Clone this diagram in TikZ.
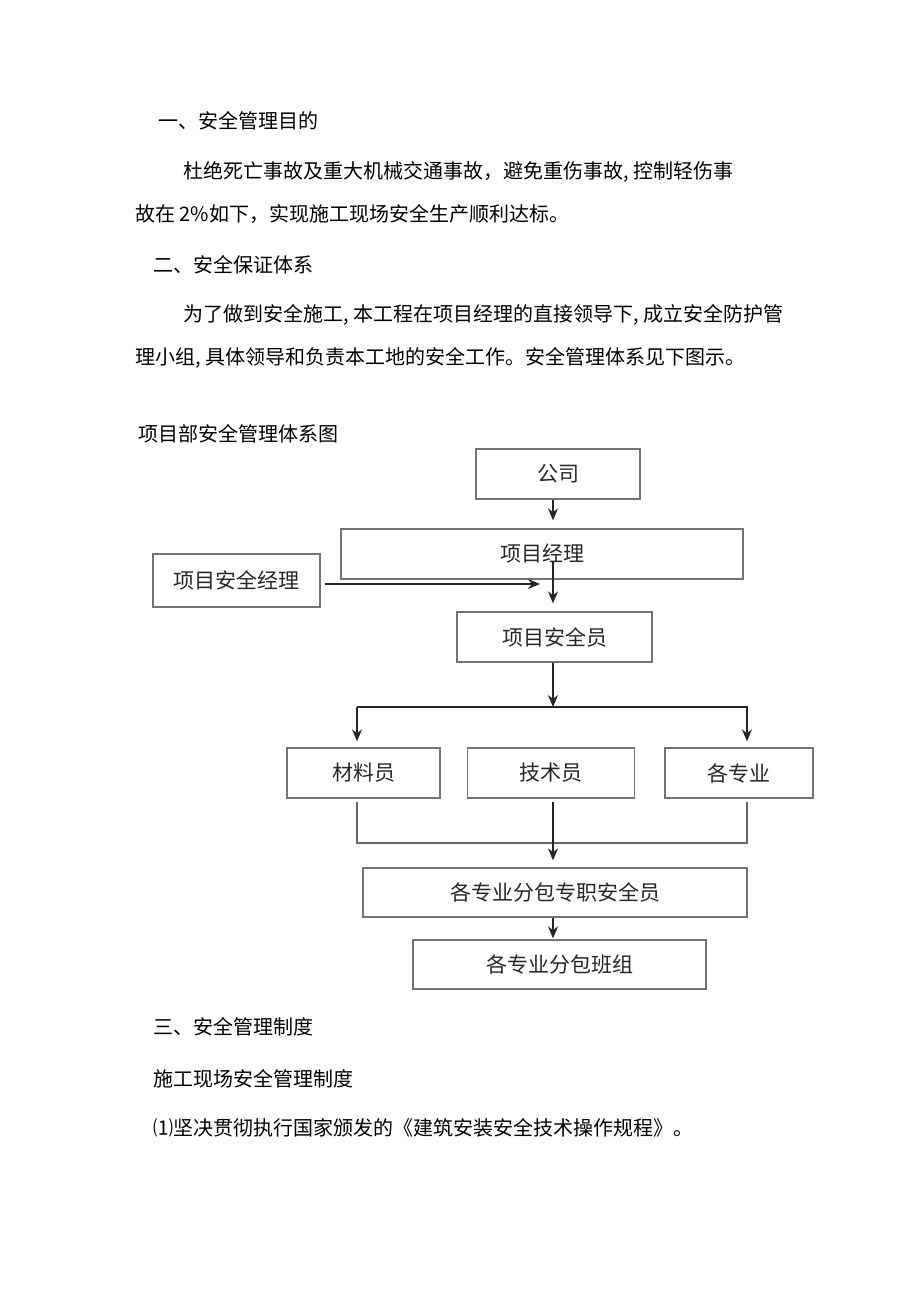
\documentclass[tikz,border=0pt]{standalone}
\usepackage{fontspec}
\setmainfont{Noto Sans CJK SC}
\usepackage{tikz}
\usetikzlibrary{arrows, arrows.meta, positioning}
\tikzstyle{post} = [rectangle, text centered, draw=black!55, line width=1.3pt, text=black!85, inner sep=0pt, font=\fontsize{21}{24}\selectfont]
\tikzstyle{para} = [anchor=west, inner sep=0pt, font=\fontsize{20}{24}\selectfont]
\tikzstyle{arrow} = [line width=1.3pt, draw=black!85, ->, >={Stealth[length=12pt, width=10pt]}]
\tikzstyle{wire} = [line width=1.3pt, draw=black!60]

\begin{document}
\begin{tikzpicture}[x=1pt, y=-1pt]
\useasboundingbox (0,0) rectangle (920,1301);

% text above the chart
\node (h1) [para] at (158,121) {一、安全管理目的};
\node (p1) [para] at (183,172) {杜绝死亡事故及重大机械交通事故，避免重伤事故, 控制轻伤事};
\node (p2) [para] at (135,214) {故在 2\%如下，实现施工现场安全生产顺利达标。};
\node (h2) [para] at (153,265) {二、安全保证体系};
\node (p3) [para] at (183,315) {为了做到安全施工, 本工程在项目经理的直接领导下, 成立安全防护管};
\node (p4) [para] at (135,358) {理小组, 具体领导和负责本工地的安全工作。安全管理体系见下图示。};
\node (title) [para] at (138,434) {项目部安全管理体系图};

% chart boxes
\node (gs) [post, minimum width=164, minimum height=50] at (558,474) {公司};
\node (pm) [post, minimum width=402, minimum height=50] at (542,554) {项目经理};
\node (spm) [post, minimum width=167, minimum height=53] at (236.5,580.5) {项目安全经理};
\node (so) [post, minimum width=195, minimum height=50] at (554.5,637) {项目安全员};

\node (cl) [post, minimum width=153, minimum height=50] at (363.5,773) {材料员};
\node (js) [post, minimum width=167, minimum height=50] at (551,773) {技术员};
\node (gz) [post, minimum width=148, minimum height=50] at (739,773) {各专业};

\node (aq) [post, minimum width=384, minimum height=49] at (555,892.5) {各专业分包专职安全员};
\node (bz) [post, minimum width=293, minimum height=49] at (559.5,964.5) {各专业分包班组};

% helper points
\coordinate (spine) at (553,0);
\coordinate (pmtail) at (553,561);
\coordinate (spmtip) at (540,584);
\coordinate (splitl) at (357,707);
\coordinate (splitr) at (747,707);
\coordinate (joinl) at (357,843);
\coordinate (joinr) at (747,843);

% connectors
\draw [arrow, shorten >=8pt] (gs.south -| spine) -- (pm.north -| spine);
\draw [arrow, shorten >=8pt] (pmtail) -- (so.north -| spine);
\draw [arrow, line width=1.7pt, shorten <=4pt] (spm.east |- spmtip) -- (spmtip);

\draw [arrow] (so.south -| spine) -- (spine |- splitl);
\draw [arrow, shorten >=6pt] (splitl) -- (splitr) -- (splitr |- gz.north);
\draw [arrow, shorten >=6pt] (splitl) -- (splitl |- cl.north);

\draw [wire] ([yshift=-3pt]splitl |- cl.south) -- (joinl) -- (joinr) -- ([yshift=-3pt]splitr |- gz.south);
\draw [arrow, shorten <=3pt, shorten >=7pt] (js.south -| spine) -- (aq.north -| spine);
\draw [arrow, shorten >=1pt] (aq.south -| spine) -- (bz.north -| spine);

% text below the chart
\node (h3) [para] at (153,1027) {三、安全管理制度};
\node (p5) [para] at (153,1079) {施工现场安全管理制度};
\node (p6) [para] at (153,1128) {⑴坚决贯彻执行国家颁发的《建筑安装安全技术操作规程》。};
\end{tikzpicture}
\end{document}
